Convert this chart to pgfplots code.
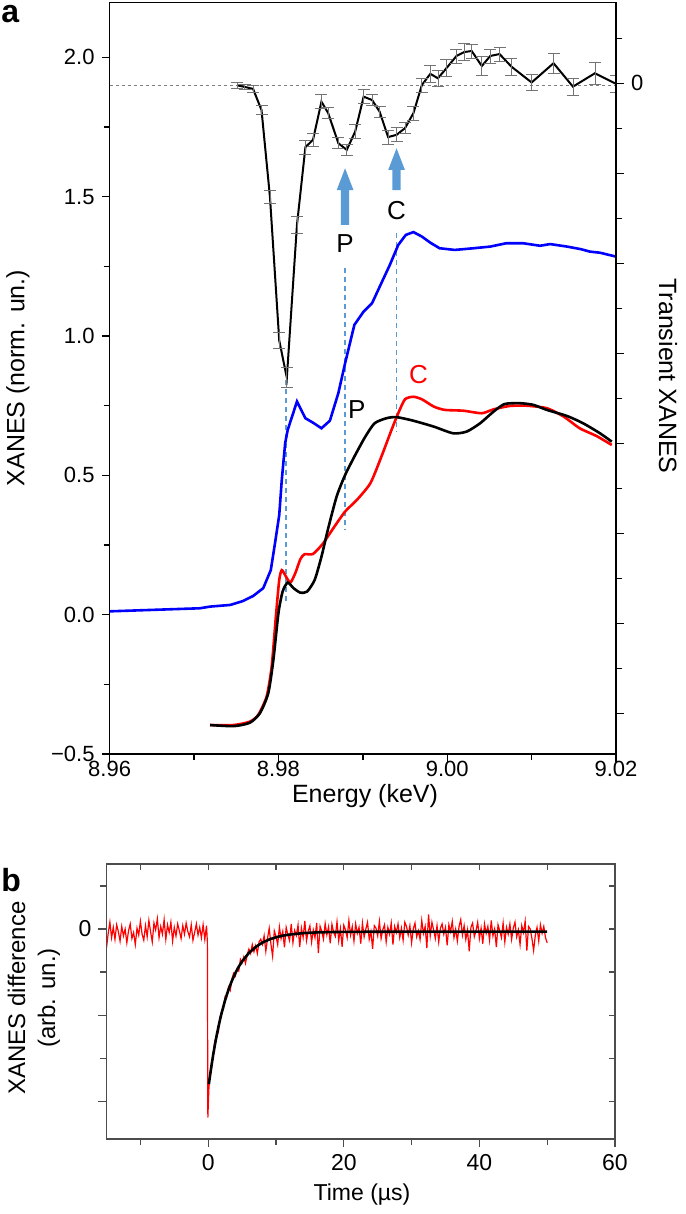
\documentclass[border=0pt]{standalone}
\usepackage{pgfplots}
\pgfplotsset{compat=1.18}
\usepackage{fontspec}
\setmainfont{Liberation Sans}
\definecolor{lblue}{RGB}{91,155,213}
\begin{document}
\begin{tikzpicture}[font=\fontsize{11}{13}\selectfont]
\path[use as bounding box] (0,0) rectangle (342.5pt,-607pt);
% ---------------- panel a ----------------
\begin{axis}[at={(54.8pt,-377pt)}, anchor=south west, scale only axis,
  width=253.2pt, height=375.75pt,
  xmin=8.96, xmax=9.02, ymin=-0.5, ymax=2.197,
  xtick={8.96,8.98,9.00,9.02}, xticklabels={8.96,8.98,9.00,9.02},
  minor xtick={8.97,8.99,9.01},
  ytick={-0.5,0,0.5,1,1.5,2}, yticklabels={−0.5,0.0,0.5,1.0,1.5,2.0},
  minor ytick={-0.25,0.25,0.75,1.25,1.75},
  xtick pos=left, ytick pos=left, tick align=outside,
  major tick length=4pt, minor tick length=3pt,
  every tick/.style={black, line width=0.7pt},
  axis line style={line width=0.7pt},
  tick label style={font=\fontsize{11}{13}\selectfont},
  xticklabel style={yshift=4pt},
]
\addplot[gray, line width=0.4pt, dash pattern=on 1.5pt off 1.5pt] coordinates {(8.96,1.9) (9.02,1.9)};
% dashed markers
\addplot[lblue, line width=0.8pt, dash pattern=on 2.5pt off 2pt] coordinates {(8.9809,0.842) (8.9809,0.042)};
\addplot[lblue, line width=0.8pt, dash pattern=on 2.5pt off 2pt] coordinates {(8.9879,1.244) (8.9879,0.304)};
\addplot[lblue, line width=0.8pt, dash pattern=on 2.5pt off 2pt] coordinates {(8.9940,1.369) (8.9940,0.657)};
% blue
\addplot[blue, line width=1.3pt] coordinates {
(8.9600,0.012) (8.9707,0.023) (8.9719,0.029) (8.9743,0.035) (8.9758,0.049) (8.9770,0.067)
(8.9782,0.095) (8.9791,0.160) (8.9796,0.257) (8.9801,0.358) (8.9804,0.483) (8.9808,0.615)
(8.9811,0.663) (8.9822,0.765) (8.9832,0.705) (8.9841,0.689) (8.9851,0.669) (8.9861,0.696)
(8.9871,0.795) (8.9879,0.902) (8.9890,1.040) (8.9901,1.088) (8.9911,1.118) (8.9922,1.190)
(8.9932,1.255) (8.9942,1.327) (8.9951,1.363) (8.9960,1.373) (8.9970,1.357) (8.9980,1.335)
(8.9991,1.315) (9.0009,1.309) (9.0031,1.315) (9.0051,1.321) (9.0070,1.333) (9.0090,1.333)
(9.0110,1.324) (9.0122,1.330) (9.0142,1.321) (9.0158,1.312) (9.0169,1.303) (9.0181,1.299)
(9.0200,1.285)};
% red
\addplot[red, line width=1.3pt, smooth, tension=0.4] coordinates {
(8.9719,-0.396) (8.9747,-0.396) (8.9766,-0.384) (8.9776,-0.360) (8.9786,-0.294) (8.9792,-0.187)
(8.9797,-0.007) (8.9801,0.125) (8.9804,0.160) (8.9808,0.142) (8.9814,0.115) (8.9820,0.149)
(8.9826,0.199) (8.9831,0.217) (8.9841,0.218) (8.9853,0.256) (8.9865,0.310) (8.9879,0.370)
(8.9893,0.412) (8.9909,0.472) (8.9922,0.567) (8.9934,0.663) (8.9942,0.723) (8.9950,0.773)
(8.9960,0.782) (8.9970,0.773) (8.9984,0.747) (8.9997,0.735) (9.0019,0.732) (9.0041,0.723)
(9.0055,0.737) (9.0074,0.749) (9.0094,0.750) (9.0118,0.741) (9.0138,0.711) (9.0157,0.669)
(9.0177,0.641) (9.0195,0.609)};
% black ground state
\addplot[black, line width=1.3pt, smooth, tension=0.4] coordinates {
(8.9719,-0.396) (8.9747,-0.400) (8.9766,-0.388) (8.9778,-0.354) (8.9788,-0.282) (8.9794,-0.163)
(8.9800,0.005) (8.9805,0.083) (8.9811,0.115) (8.9818,0.095) (8.9826,0.079) (8.9834,0.083)
(8.9843,0.125) (8.9851,0.208) (8.9859,0.310) (8.9869,0.424) (8.9879,0.501) (8.9891,0.573)
(8.9903,0.639) (8.9914,0.687) (8.9928,0.705) (8.9940,0.709) (8.9960,0.696) (8.9984,0.675)
(9.0007,0.651) (9.0023,0.657) (9.0039,0.687) (9.0055,0.729) (9.0068,0.756) (9.0086,0.759)
(9.0102,0.753) (9.0118,0.735) (9.0142,0.713) (9.0161,0.687) (9.0181,0.651) (9.0195,0.621)};
% transient with error bars
\addplot[black, line width=1pt,
  error bars/.cd, y dir=both, y explicit,
  error bar style={black!55, line width=0.4pt},
  error mark options={black!55, line width=0.4pt, mark size=3pt, rotate=90}]
  table[x=x, y=y, y error=e] {
x y e
8.9751 1.900 0.010
8.9760 1.894 0.010
8.9770 1.887 0.012
8.9780 1.811 0.015
8.9790 1.499 0.024
8.9801 0.984 0.028
8.9810 0.850 0.036
8.9822 1.399 0.030
8.9832 1.678 0.025
8.9841 1.704 0.025
8.9851 1.841 0.025
8.9859 1.800 0.020
8.9871 1.692 0.020
8.9881 1.668 0.020
8.9891 1.734 0.025
8.9901 1.859 0.025
8.9911 1.847 0.020
8.9920 1.805 0.020
8.9930 1.714 0.025
8.9940 1.722 0.025
8.9950 1.746 0.020
8.9960 1.800 0.025
8.9970 1.901 0.025
8.9980 1.941 0.030
8.9989 1.925 0.030
8.9999 1.961 0.030
9.0011 2.005 0.025
9.0020 2.019 0.030
9.0029 2.023 0.025
9.0041 1.969 0.035
9.0051 2.005 0.025
9.0062 2.012 0.025
9.0076 1.967 0.030
9.0100 1.910 0.030
9.0126 1.979 0.035
9.0149 1.895 0.030
9.0175 1.943 0.040
9.0200 1.905 0.030
};
% arrows
\fill[lblue] (axis cs:8.98741,1.399) -- (axis cs:8.98741,1.524) -- (axis cs:8.98691,1.524) -- (axis cs:8.9879,1.602) -- (axis cs:8.98889,1.524) -- (axis cs:8.98839,1.524) -- (axis cs:8.98839,1.399) -- cycle;
\fill[lblue] (axis cs:8.99351,1.524) -- (axis cs:8.99351,1.596) -- (axis cs:8.99301,1.596) -- (axis cs:8.9940,1.674) -- (axis cs:8.99499,1.596) -- (axis cs:8.99449,1.596) -- (axis cs:8.99449,1.524) -- cycle;
\node[font=\fontsize{13}{15}\selectfont] at (axis cs:8.9879,1.333) {P};
\node[font=\fontsize{13}{15}\selectfont] at (axis cs:8.9940,1.452) {C};
\node[font=\fontsize{13}{15}\selectfont] at (axis cs:8.9893,0.735) {P};
\node[font=\fontsize{13}{15}\selectfont, red] at (axis cs:8.9966,0.860) {C};
\end{axis}
% right axis of panel a
\begin{axis}[at={(54.8pt,-377pt)}, anchor=south west, scale only axis,
  width=253.2pt, height=375.75pt,
  xmin=8.96, xmax=9.02, ymin=-7.452, ymax=0.898,
  axis x line=none, axis y line*=right,
  ytick={-7,-6,-5,-4,-3,-2,-1,0}, yticklabels={,,,,,,,0},
  minor ytick={-6.5,-5.5,-4.5,-3.5,-2.5,-1.5,-0.5,0.5},
  tick align=outside, major tick length=4pt, minor tick length=3pt,
  every tick/.style={black, line width=0.7pt},
  axis line style={line width=0.7pt},
  tick label style={font=\fontsize{11}{13}\selectfont},
]
\addplot[draw=none] coordinates {(8.96,0)};
\end{axis}
% ---------------- panel b ----------------
\begin{axis}[at={(53.25pt,-569.5pt)}, anchor=south west, scale only axis,
  width=254.25pt, height=137.5pt,
  xmin=-15, xmax=60, ymin=-2.44, ymax=0.756,
  xtick={0,20,40,60}, xticklabels={0,20,40,60},
  minor xtick={-10,10,30,50},
  ytick={-2,-1,0}, yticklabels={,,0},
  minor ytick={-1.5,-0.5,0.5},
  xtick pos=left, ytick pos=left, tick align=outside,
  major tick length=4pt, minor tick length=3pt,
  every tick/.style={black!70, line width=0.6pt},
  axis line style={black!70, line width=0.6pt},
  tick label style={font=\fontsize{11.5}{13}\selectfont},
]
\addplot[red, line width=0.6pt] coordinates {
(-15,-0.22) (-14.75,-0.05) (-14.5,0.08) (-14.25,-0.10) (-14,0.02) (-13.75,-0.12) (-13.5,0.05) (-13.25,-0.03)
(-13,-0.14) (-12.75,0.03) (-12.5,-0.08) (-12.25,0.00) (-12,-0.16) (-11.75,-0.02) (-11.5,0.06) (-11.25,-0.11)
(-11,-0.04) (-10.75,-0.18) (-10.5,0.01) (-10.25,-0.07) (-10,0.09) (-9.75,-0.06) (-9.5,-0.13) (-9.25,0.04)
(-9,-0.09) (-8.75,0.10) (-8.5,-0.03) (-8.25,-0.15) (-8,0.07) (-7.75,-0.01) (-7.5,0.12) (-7.25,-0.10)
(-7,0.03) (-6.75,-0.06) (-6.5,0.11) (-6.25,-0.12) (-6,0.05) (-5.75,-0.04) (-5.5,0.08) (-5.25,-0.14)
(-5,0.02) (-4.75,-0.08) (-4.5,0.06) (-4.25,-0.02) (-4,-0.11) (-3.75,0.04) (-3.5,-0.06) (-3.25,0.07)
(-3,-0.03) (-2.75,-0.09) (-2.5,0.05) (-2.25,-0.13) (-2,-0.04) (-1.75,0.06) (-1.5,-0.07) (-1.25,0.02)
(-1,-0.10) (-0.75,0.05) (-0.5,-0.12) (-0.25,0.04) (-0.12,-0.15) (-0.05,-2.19) (0.1,-1.86)
(0.25,-1.689) (0.5,-1.619) (0.75,-1.440) (1,-1.291) (1.25,-1.256) (1.5,-1.195) (1.75,-1.016) (2,-0.965)
(2.25,-0.924) (2.5,-0.780) (2.75,-0.772) (3,-0.673) (3.25,-0.714) (3.5,-0.580) (3.75,-0.514) (4,-0.547)
(4.25,-0.464) (4.5,-0.488) (4.75,-0.351) (5,-0.391) (5.25,-0.323) (5.5,-0.398) (5.75,-0.299) (6,-0.233)
(6.25,-0.283) (6.5,-0.180) (6.75,-0.263) (7,-0.193) (7.25,-0.283) (7.5,-0.150) (7.75,-0.118) (8,-0.177)
(8.25,-0.077) (8.5,-0.258) (8.75,-0.109) (9,0.009) (9.25,-0.174) (9.5,-0.317) (9.75,-0.021) (10,-0.085)
(10.25,-0.180) (10.5,0.025) (10.75,-0.111) (11,-0.027) (11.25,-0.213) (11.5,0.020) (11.75,-0.066) (12,-0.134)
(12.25,0.059) (12.5,-0.158) (12.75,-0.016) (13,-0.074) (13.25,0.048) (13.5,-0.210) (13.75,0.011) (14,-0.097)
(14.25,0.094) (14.5,-0.135) (14.75,-0.024) (15,0.037) (15.25,-0.152) (15.5,-0.011) (15.75,-0.100) (16,0.071)
(16.25,-0.278) (16.5,0.032) (16.75,-0.027) (17,-0.117) (17.25,0.064) (17.5,-0.066) (17.75,0.025) (18,-0.165)
(18.25,0.055) (18.5,-0.035) (18.75,-0.085) (19,0.085) (19.25,-0.135) (19.5,0.005) (19.75,-0.205) (20,0.045)
(20.25,-0.010) (20.5,-0.100) (20.75,0.100) (21,-0.070) (21.25,0.030) (21.5,-0.140) (21.75,0.060) (22,-0.050)
(22.25,0.020) (22.5,-0.170) (22.75,0.070) (23,-0.090) (23.25,0.000) (23.5,0.080) (23.75,-0.120) (24,-0.030)
(24.25,-0.230) (24.5,0.040) (24.75,0.010) (25,-0.080) (25.25,0.090) (25.5,-0.110) (25.75,-0.010) (26,0.050)
(26.25,-0.150) (26.5,0.020) (26.75,-0.060) (27,0.070) (27.25,-0.180) (27.5,0.030) (27.75,-0.040) (28,0.060)
(28.25,-0.100) (28.5,0.010) (28.75,-0.130) (29,0.080) (29.25,0.030) (29.5,-0.070) (29.75,0.040) (30,-0.160)
(30.25,0.000) (30.5,0.070) (30.75,-0.090) (31,-0.020) (31.25,-0.120) (31.5,0.100) (31.75,-0.050) (32,0.030)
(32.25,-0.220) (32.5,0.170) (32.75,-0.080) (33,0.080) (33.25,-0.010) (33.5,-0.110) (33.75,0.040) (34,-0.150)
(34.25,0.010) (34.5,0.060) (34.75,-0.060) (35,0.020) (35.25,-0.190) (35.5,0.050) (35.75,-0.030) (36,0.090)
(36.25,-0.100) (36.5,0.000) (36.75,-0.140) (37,0.030) (37.25,0.110) (37.5,-0.070) (37.75,0.040) (38,-0.120)
(38.25,-0.010) (38.5,-0.260) (38.75,0.020) (39,0.070) (39.25,-0.090) (39.5,-0.020) (39.75,0.080) (40,-0.110)
(40.25,0.010) (40.5,-0.170) (40.75,0.060) (41,-0.050) (41.25,0.030) (41.5,-0.130) (41.75,0.100) (42,-0.080)
(42.25,0.000) (42.5,-0.210) (42.75,0.050) (43,-0.020) (43.25,-0.100) (43.5,0.070) (43.75,-0.150) (44,0.020)
(44.25,-0.060) (44.5,0.060) (44.75,-0.120) (45,0.010) (45.25,0.080) (45.5,-0.090) (45.75,-0.010) (46,-0.180)
(46.25,0.040) (46.5,-0.040) (46.75,0.090) (47,-0.250) (47.25,0.030) (47.5,0.000) (47.75,-0.110) (48,-0.250)
(48.25,-0.070) (48.5,0.020) (48.75,-0.140) (49,0.050) (49.25,-0.050) (49.5,0.030) (49.75,-0.100) (50,-0.160)};
\addplot[black, line width=1.3pt] coordinates {
(0.1,-1.80) (0.25,-1.714) (0.5,-1.579) (0.75,-1.455) (1,-1.341) (1.25,-1.236) (1.5,-1.140) (1.75,-1.051)
(2,-0.970) (2.5,-0.825) (3,-0.703) (3.5,-0.600) (4,-0.512) (4.5,-0.438) (5,-0.376) (6,-0.278) (7,-0.208)
(8,-0.157) (9,-0.121) (10,-0.095) (11,-0.077) (12,-0.064) (14,-0.047) (16,-0.039) (18,-0.035) (20,-0.033)
(25,-0.031) (30,-0.030) (40,-0.030) (50,-0.030)};
\end{axis}
% inward ticks on top/right of panel b
\begin{axis}[at={(53.25pt,-569.5pt)}, anchor=south west, scale only axis,
  width=254.25pt, height=137.5pt,
  xmin=-15, xmax=60, ymin=-2.44, ymax=0.756,
  xtick={-10,0,10,20,30,40,50}, xticklabels={},
  ytick={-2,-1.5,-1,-0.5,0,0.5}, yticklabels={},
  xtick pos=right, ytick pos=right, tick align=inside,
  major tick length=3pt,
  every tick/.style={black!70, line width=0.6pt},
  axis line style={black!70, line width=0.6pt},
]
\addplot[draw=none] coordinates {(0,0)};
\end{axis}
% labels
\node[font=\bfseries\fontsize{16}{18}\selectfont, anchor=base west, inner sep=0pt] at (0.5pt,-11.5pt) {a};
\node[font=\bfseries\fontsize{16}{18}\selectfont, anchor=base west, inner sep=0pt] at (0.5pt,-445.5pt) {b};
\node[font=\fontsize{12.5}{15}\selectfont] at (182.5pt,-398pt) {Energy (keV)};
\node[rotate=90, font=\fontsize{12.5}{15}\selectfont] at (9pt,-189pt) {XANES (norm. un.)};
\node[rotate=-90, font=\fontsize{12.5}{15}\selectfont] at (334pt,-188pt) {Transient XANES};
\node[font=\fontsize{11.5}{13}\selectfont] at (181pt,-597.5pt) {Time (µs)};
\node[rotate=90, align=center, font=\fontsize{12}{15}\selectfont] at (17pt,-499pt) {XANES difference\\(arb. un.)};
\end{tikzpicture}
\end{document}
